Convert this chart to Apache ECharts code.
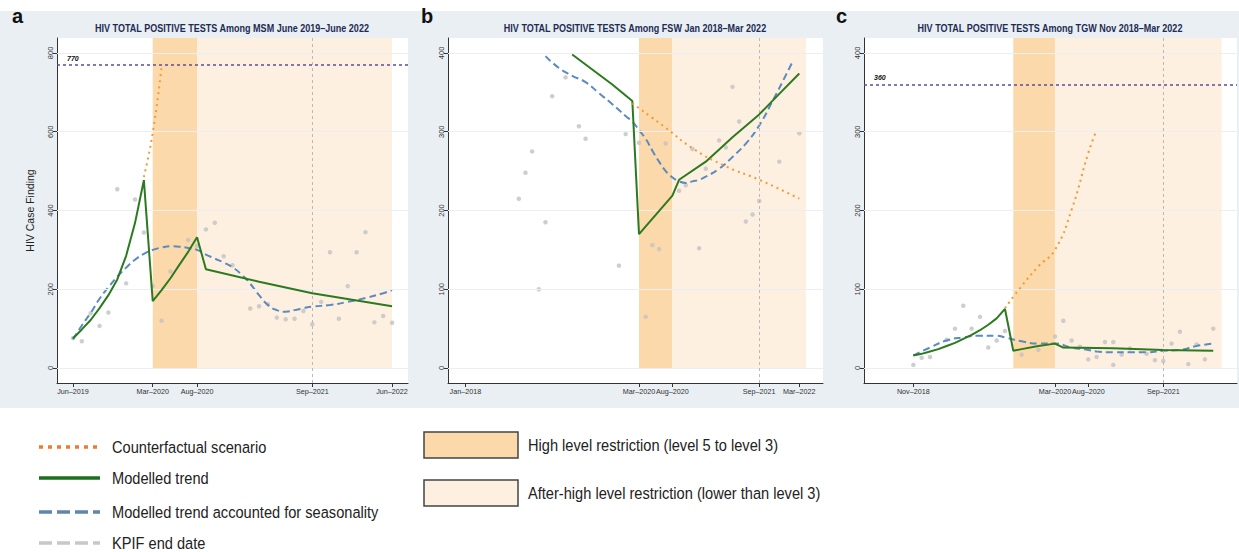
<!DOCTYPE html>
<html>
<head>
<meta charset="utf-8">
<script src="https://cdn.jsdelivr.net/npm/echarts@6/dist/echarts.min.js"></script>
<style>
html, body { margin: 0; padding: 0; background: #fff; }
#chart { width: 1239px; height: 552px; }
</style>
</head>
<body>
<div id="chart"></div>
<script>
// ---- panel a: MSM, x = months since Jun-2019
const aTickPos = [0, 9, 14, 27, 36];
const aTickLabels = ['Jun–2019', 'Mar–2020', 'Aug–2020', 'Sep–2021', 'Jun–2022'];
const aYTicks = [0, 200, 400, 600, 800];
const aObserved = [[0,76],[1,68],[2,139],[3,107],[4,141],[5,454],[6,215],[7,428],[8,344],[9,208],[10,120],[11,245],[13,325],[14,310],[15,352],[16,369],[17,284],[18,261],[20,151],[21,157],[22,162],[23,128],[24,124],[25,125],[26,145],[27,111],[28,168],[29,294],[30,125],[31,208],[32,294],[33,345],[34,116],[35,132],[36,115]];
const aTrend = [[0,75],[1,98],[2,122],[3,152],[4,185],[5,225],[6,285],[7,368],[8,477],[9,170],[10,198],[11,228],[12,262],[13,295],[14,332],[15,251],[21,219],[27,190],[36,157]];
const aSeasonal = [[0,73],[1,108],[2,140],[3,176],[4,205],[5,232],[6,255],[7,275],[8,290],[9,300],[10,306],[11,309],[12,308],[13,305],[14,300],[15,288],[16,278],[17,268],[18,256],[19,238],[20,214],[21,185],[22,160],[23,147],[24,143],[25,147],[26,152],[27,156],[29,160],[31,168],[33,178],[35,190],[36,198]];
const aCounterfactual = [[8,485],[9,597],[10,765]];
const aHigh = [9, 14];
const aAfter = [14, 36];
const aKpif = 27;
const aTarget = 770;

// ---- panel b: FSW, x = months since Jan-2018
const bTickPos = [0, 26, 31, 44, 50];
const bTickLabels = ['Jan–2018', 'Mar–2020', 'Aug–2020', 'Sep–2021', 'Mar–2022'];
const bYTicks = [0, 100, 200, 300, 400];
const bObserved = [[8,215],[9,248],[10,275],[11,100],[12,185],[13,345],[15,369],[17,307],[18,291],[23,130],[24,297],[26,286],[27,65],[28,156],[29,151],[30,285],[32,225],[33,232],[34,278],[35,152],[36,253],[38,289],[39,280],[40,357],[41,313],[42,186],[43,195],[44,212],[47,262],[50,298]];
const bTrend = [[16,398],[22,360],[25,339],[26,170],[31,219],[32,239],[36,262],[40,293],[44,322],[47,348],[50,374]];
const bSeasonal = [[12,396],[14,381],[16,371],[18,363],[20,349],[22,335],[24,320],[25,313],[26,302],[27,291],[28,276],[29,262],[30,250],[31,242],[32,237],[33,235],[34,237],[35,239],[36,243],[38,253],[40,268],[42,285],[44,308],[46,339],[48,372],[49,389]];
const bCounterfactual = [[25,336],[30,305],[34,279],[39,256],[44,239],[50,215]];
const bHigh = [26, 31];
const bAfter = [31, 51];
const bKpif = 44;

// ---- panel c: TGW, x = reporting period index from Nov-2018
const cTickPos = [0, 17, 21, 30];
const cTickLabels = ['Nov–2018', 'Mar–2020', 'Aug–2020', 'Sep–2021'];
const cYTicks = [0, 100, 200, 300, 400];
const cObserved = [[0,4],[1,13],[2,14],[4,36],[5,50],[6,79],[7,50],[8,65],[9,26],[10,35],[11,47],[13,17],[15,23],[17,40],[18,60],[19,35],[20,27],[21,11],[22,14],[23,33],[24,33],[24,4],[25,17],[26,25],[28,18],[29,10],[30,9],[31,31],[32,46],[33,5],[34,30],[35,11],[36,50]];
const cTrend = [[0,16],[1,18],[2,21],[3,24],[4,28],[5,32],[6,37],[7,42],[8,48],[9,55],[10,63],[11,75],[12,22],[13,24],[15,28],[17,31],[18,26],[24,25],[30,23],[36,22]];
const cSeasonal = [[0,16],[2,26],[4,35],[6,39],[8,41],[10,41],[11,39],[13,34],[15,31],[17,31],[19,26],[21,23],[22,21],[24,20],[26,20],[28,20],[30,22],[32,23],[34,28],[36,31]];
const cCounterfactual = [[11,76],[13,104],[15,129],[17,150],[19,201],[21,273],[22,302]];
const cHigh = [12, 17];
const cAfter = [17, 37];
const cKpif = 30;
const cTarget = 360;

const FONT = '"Liberation Sans", Arial, sans-serif';
const AXIS = '#333';
const HIGH = '#fcd9aa';
const AFTER = '#fef0e1';

const chart = echarts.init(document.getElementById('chart'), null, { renderer: 'svg' });

function xAxisFor(i, min, max, pos, labels) {
  return {
    type: 'value', gridIndex: i, min: min, max: max,
    axisLine: { show: true, onZero: false, lineStyle: { color: AXIS, width: 1 } },
    axisTick: { show: true, customValues: pos, length: 4, lineStyle: { color: AXIS } },
    axisLabel: { customValues: pos, formatter: v => labels[pos.indexOf(v)], fontSize: 7.2, color: '#333', margin: 5, fontFamily: FONT },
    splitLine: { show: false }
  };
}

function yAxisFor(i, min, max, ticks, name) {
  return {
    type: 'value', gridIndex: i, min: min, max: max,
    axisLine: { show: true, onZero: false, lineStyle: { color: AXIS, width: 1 } },
    axisTick: { show: true, customValues: ticks, length: 4, lineStyle: { color: AXIS } },
    axisLabel: { customValues: ticks, rotate: 90, fontSize: 7.5, color: '#333', margin: 3, fontFamily: FONT },
    splitLine: { show: false },
    name: name || '', nameLocation: 'middle', nameGap: 22,
    nameTextStyle: { fontSize: 10.5, color: '#222', fontFamily: FONT }
  };
}

function panelSeries(i, yMax, yTicks, high, after, kpif, target, obs, trend, seas, cf) {
  const refLines = yTicks.map(v => ({ yAxis: v, lineStyle: { color: '#eceff2', width: 1, type: 'solid' }, label: { show: false } }));
  refLines.push({ xAxis: kpif, lineStyle: { color: '#b9b9b9', width: 1, type: [3, 3] }, label: { show: false } });
  if (target != null) {
    refLines.push({
      yAxis: target,
      lineStyle: { color: '#5b4c9e', width: 1.5, type: [3, 3] },
      label: { show: true, formatter: String(target), position: 'insideStartTop', distance: [10, 3],
               fontSize: 7, fontStyle: 'italic', fontWeight: 'bold', color: '#111', fontFamily: FONT }
    });
  }
  return [
    { type: 'line', xAxisIndex: i, yAxisIndex: i, data: [], z: 1, silent: true,
      markArea: { silent: true, data: [
        [{ xAxis: high[0], yAxis: 0, itemStyle: { color: HIGH } }, { xAxis: high[1], yAxis: yMax }],
        [{ xAxis: after[0], yAxis: 0, itemStyle: { color: AFTER } }, { xAxis: after[1], yAxis: yMax }]
      ] } },
    { type: 'line', xAxisIndex: i, yAxisIndex: i, data: [], z: 2, silent: true,
      markLine: { silent: true, symbol: 'none', data: refLines } },
    { type: 'scatter', xAxisIndex: i, yAxisIndex: i, data: obs, z: 3, symbolSize: 4.5,
      itemStyle: { color: '#c2c2c2' } },
    { type: 'line', xAxisIndex: i, yAxisIndex: i, data: seas, z: 4, smooth: true, showSymbol: false,
      lineStyle: { color: '#5b8bbf', width: 2, type: [7, 4] } },
    { type: 'line', xAxisIndex: i, yAxisIndex: i, data: trend, z: 5, showSymbol: false,
      lineStyle: { color: '#2c7a1f', width: 2 } },
    { type: 'line', xAxisIndex: i, yAxisIndex: i, data: cf, z: 6, smooth: true, showSymbol: false,
      lineStyle: { color: '#f39a35', width: 2, type: [2, 4] } }
  ];
}

const legendRows = [
  { y: 447, text: 'Counterfactual scenario', color: '#f07b30', dash: [4, 5] },
  { y: 478, text: 'Modelled trend', color: '#1d6e1d', dash: null },
  { y: 512, text: 'Modelled trend accounted for seasonality', color: '#5f86ab', dash: [13, 5] },
  { y: 543, text: 'KPIF end date', color: '#c8c8c8', dash: [13, 5] }
];
const boxRows = [
  { y: 432, text: 'High level restriction (level 5 to level 3)', fill: HIGH },
  { y: 480, text: 'After-high level restriction (lower than level 3)', fill: AFTER }
];

// the source uses a condensed face, so texts are squeezed horizontally
const titleStyle = { align: 'center', verticalAlign: 'middle', fontSize: 10.5, fontWeight: 'bold', fill: '#1e2b55', fontFamily: FONT };
const letterStyle = { fontSize: 20, fontWeight: 'bold', fill: '#111', fontFamily: FONT };
const legendText = { verticalAlign: 'middle', fontSize: 17, fill: '#222', fontFamily: FONT };
const graphics = [
  { type: 'rect', z: -100, shape: { x: 0, y: 11, width: 1239, height: 397 }, style: { fill: '#e9eff2' } },
  { type: 'text', x: 12, y: 6, style: Object.assign({ text: 'a' }, letterStyle) },
  { type: 'text', x: 421, y: 6, style: Object.assign({ text: 'b' }, letterStyle) },
  { type: 'text', x: 836, y: 6, style: Object.assign({ text: 'c' }, letterStyle) },
  { type: 'text', x: 232, y: 28, scaleX: 0.86, style: Object.assign({ text: 'HIV TOTAL POSITIVE TESTS Among MSM June 2019–June 2022' }, titleStyle) },
  { type: 'text', x: 635, y: 28, scaleX: 0.86, style: Object.assign({ text: 'HIV TOTAL POSITIVE TESTS Among FSW Jan 2018–Mar 2022' }, titleStyle) },
  { type: 'text', x: 1050, y: 28, scaleX: 0.86, style: Object.assign({ text: 'HIV TOTAL POSITIVE TESTS Among TGW Nov 2018–Mar 2022' }, titleStyle) }
];
legendRows.forEach(r => {
  graphics.push({ type: 'line', shape: { x1: 39, y1: r.y, x2: 100, y2: r.y },
    style: { stroke: r.color, lineWidth: 3.5, lineDash: r.dash } });
  graphics.push({ type: 'text', x: 112, y: r.y, scaleX: 0.86, style: Object.assign({ text: r.text }, legendText) });
});
boxRows.forEach(r => {
  graphics.push({ type: 'rect', shape: { x: 424, y: r.y, width: 94, height: 26 }, style: { fill: r.fill, stroke: '#444', lineWidth: 1.5 } });
  graphics.push({ type: 'text', x: 528, y: r.y + 13, scaleX: 0.86, style: Object.assign({ text: r.text }, legendText) });
});

const option = {
  animation: false,
  backgroundColor: '#fff',
  textStyle: { fontFamily: FONT },
  grid: [
    { left: 57, top: 38, width: 351, height: 345, show: true, backgroundColor: '#fff', borderWidth: 0 },
    { left: 448, top: 38, width: 375, height: 345, show: true, backgroundColor: '#fff', borderWidth: 0 },
    { left: 864, top: 38, width: 373, height: 345, show: true, backgroundColor: '#fff', borderWidth: 0 }
  ],
  xAxis: [
    xAxisFor(0, -1.8, 37.8, aTickPos, aTickLabels),
    xAxisFor(1, -2.6, 53.55, bTickPos, bTickLabels),
    xAxisFor(2, -5.92, 38.85, cTickPos, cTickLabels)
  ],
  yAxis: [
    yAxisFor(0, -38, 838, aYTicks, 'HIV Case Finding'),
    yAxisFor(1, -19, 419, bYTicks),
    yAxisFor(2, -19, 419, cYTicks)
  ],
  graphic: graphics,
  series: [].concat(
    panelSeries(0, 838, aYTicks, aHigh, aAfter, aKpif, aTarget, aObserved, aTrend, aSeasonal, aCounterfactual),
    panelSeries(1, 419, bYTicks, bHigh, bAfter, bKpif, null, bObserved, bTrend, bSeasonal, bCounterfactual),
    panelSeries(2, 419, cYTicks, cHigh, cAfter, cKpif, cTarget, cObserved, cTrend, cSeasonal, cCounterfactual)
  )
};
chart.setOption(option);
</script>
</body>
</html>
